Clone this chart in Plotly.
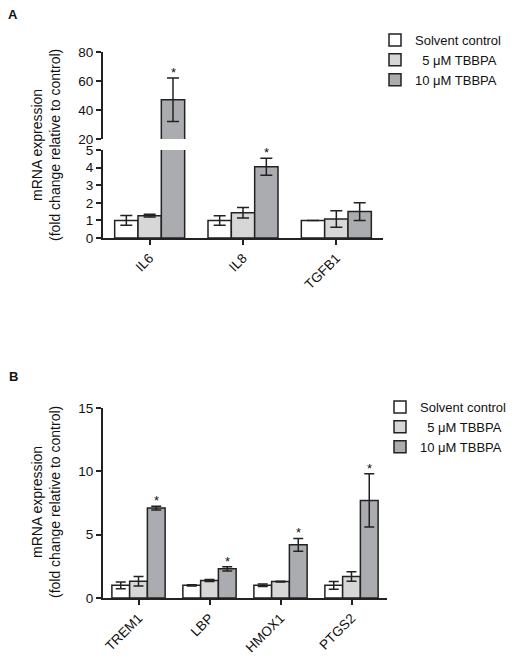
import plotly.graph_objects as go

# ---------------- data ----------------
series_names = ["Solvent control", "\u00a0\u00a05 \u03bcM TBBPA", "10 \u03bcM TBBPA"]
series_colors = ["#ffffff", "#d7d7d7", "#abacaf"]

categories_a = ["IL6", "IL8", "TGFB1"]
ctrl_a = [1.0, 1.0, 1.0]
ctrl_a_err = [0.28, 0.27, 0.0]
tb5_a = [1.27, 1.43, 1.08]
tb5_a_err = [0.08, 0.30, 0.47]
tb10_a = [47.0, 4.05, 1.5]
tb10_a_err = [15.0, 0.48, 0.5]
sig_a = [True, True, False]

categories_b = ["TREM1", "LBP", "HMOX1", "PTGS2"]
ctrl_b = [1.0, 1.0, 1.0, 1.0]
ctrl_b_err = [0.27, 0.05, 0.10, 0.30]
tb5_b = [1.32, 1.38, 1.30, 1.70]
tb5_b_err = [0.38, 0.08, 0.03, 0.37]
tb10_b = [7.1, 2.3, 4.2, 7.7]
tb10_b_err = [0.15, 0.17, 0.5, 2.1]
sig_b = [True, True, True, True]

# page has an 8px body margin; figure fills the rest of the 522x659 window
OFF = 8
W, H = 522 - OFF, 659 - OFF
def px(x):
    return (x - OFF) / W
def py(y):
    return 1 - (y - OFF) / H

FONT = "Liberation Sans, Arial, sans-serif"
LINE = "#222222"
TXT = "#111111"

fig = go.Figure()

def add_bars(cats, vals, errs, xa, ya, legend, showlegend, cap):
    for i in range(3):
        fig.add_trace(go.Bar(
            x=cats, y=vals[i], name=series_names[i],
            marker=dict(color=series_colors[i], line=dict(color=LINE, width=1.5)),
            error_y=dict(type="data", array=errs[i], color=LINE, thickness=1.5, width=cap, visible=True),
            xaxis=xa, yaxis=ya, legend=legend, showlegend=showlegend,
        ))

vals_a = [ctrl_a, tb5_a, tb10_a]
errs_a = [ctrl_a_err, tb5_a_err, tb10_a_err]
vals_b = [ctrl_b, tb5_b, tb10_b]
errs_b = [ctrl_b_err, tb5_b_err, tb10_b_err]

# Panel A lower and upper (broken axis)
add_bars(categories_a, vals_a, errs_a, "x", "y", "legend", True, 6)
add_bars(categories_a, vals_a, errs_a, "x2", "y2", "legend", False, 6)
# Panel B
add_bars(categories_b, vals_b, errs_b, "x3", "y3", "legend2", True, 5)

axis_common = dict(showline=True, linecolor=LINE, linewidth=2, ticks="outside",
                   ticklen=5, tickwidth=2, tickcolor=LINE, showgrid=False, zeroline=False,
                   automargin=False,
                   tickfont=dict(family=FONT, size=13.5, color=TXT))

dom_a = [px(103), px(383)]
dom_b = [px(103), px(387)]

fig.update_layout(
    width=W, height=H, margin=dict(l=0, r=0, t=0, b=0, autoexpand=False),
    paper_bgcolor="white", plot_bgcolor="white",
    barmode="group", bargap=0.25, bargroupgap=0,
    font=dict(family=FONT, size=13, color=TXT),
    xaxis=dict(domain=dom_a, anchor="y", tickangle=-45, range=[-0.5, 2.5], **axis_common),
    yaxis=dict(domain=[py(238), py(150)], anchor="x", range=[0, 5], dtick=1, **axis_common),
    xaxis2=dict(domain=dom_a, anchor="y2", matches="x", visible=False, range=[-0.5, 2.5],
                automargin=False),
    yaxis2=dict(domain=[py(139), py(52)], anchor="x2", range=[20, 80], dtick=20, **axis_common),
    xaxis3=dict(domain=dom_b, anchor="y3", tickangle=-45, range=[-0.5, 3.5], **axis_common),
    yaxis3=dict(domain=[py(598), py(408)], anchor="x3", range=[0, 15], dtick=5, **axis_common),
    legend=dict(x=px(375), y=py(25), xanchor="left", yanchor="top",
                font=dict(family=FONT, size=13, color=TXT),
                bgcolor="rgba(0,0,0,0)", tracegroupgap=0, itemwidth=30),
    legend2=dict(x=px(380), y=py(392), xanchor="left", yanchor="top",
                 font=dict(family=FONT, size=13, color=TXT),
                 bgcolor="rgba(0,0,0,0)", tracegroupgap=0, itemwidth=30),
)

ann = []
# asterisks
for i, s in enumerate(sig_a):
    if not s:
        continue
    top = tb10_a[i] + tb10_a_err[i]
    ref = ("x2", "y2") if top > 5 else ("x", "y")
    ann.append(dict(x=i + 0.25, y=top, xref=ref[0], yref=ref[1], text="*", showarrow=False,
                    xanchor="center", yanchor="bottom", yshift=-4, font=dict(size=13)))
for i, s in enumerate(sig_b):
    if not s:
        continue
    top = tb10_b[i] + tb10_b_err[i]
    ann.append(dict(x=i + 0.25, y=top, xref="x3", yref="y3", text="*", showarrow=False,
                    xanchor="center", yanchor="bottom", yshift=-4, font=dict(size=13)))

ytitle = "mRNA expression<br>(fold change relative to control)"
for yc in (145, 502):
    ann.append(dict(x=px(46), y=py(yc), xref="paper", yref="paper", text=ytitle, textangle=-90,
                    xanchor="center", yanchor="middle", showarrow=False,
                    font=dict(size=14, color=TXT)))
ann.append(dict(x=px(13), y=py(15), xref="paper", yref="paper", text="<b>A</b>",
                xanchor="center", yanchor="middle", showarrow=False, font=dict(size=13)))
ann.append(dict(x=px(13), y=py(376), xref="paper", yref="paper", text="<b>B</b>",
                xanchor="center", yanchor="middle", showarrow=False, font=dict(size=13)))
fig.update_layout(annotations=ann)

fig.write_html("out.html")
